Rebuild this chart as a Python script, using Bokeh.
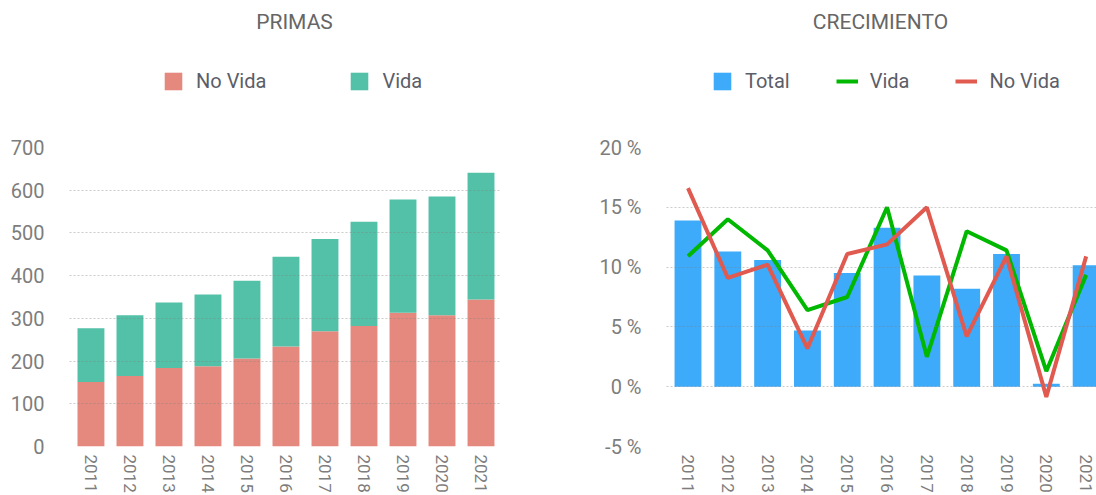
from bokeh.plotting import figure
from bokeh.layouts import row, column
from bokeh.models import (ColumnDataSource, Range1d, FixedTicker, PrintfTickFormatter,
                          Legend, LegendItem, Label)
from bokeh.embed import file_html
from bokeh.resources import INLINE

# ---------------- data ----------------
years = ["2011", "2012", "2013", "2014", "2015", "2016", "2017", "2018", "2019", "2020", "2021"]

primas_no_vida = [151, 165, 184, 188, 206, 234, 270, 282, 313, 307, 344]
primas_vida = [126, 142, 153, 168, 182, 210, 216, 244, 265, 278, 297]
primas_ticks = [0, 100, 200, 300, 400, 500, 600, 700]

crec_total = [13.9, 11.3, 10.6, 4.7, 9.5, 13.3, 9.3, 8.2, 11.1, 0.25, 10.15]
crec_vida = [10.9, 14.0, 11.4, 6.4, 7.5, 15.0, 2.5, 13.0, 11.4, 1.3, 9.35]
crec_no_vida = [16.6, 9.1, 10.2, 3.2, 11.1, 11.9, 15.0, 4.2, 10.9, -0.85, 10.9]
crec_ticks = [-5, 0, 5, 10, 15, 20]

# ---------------- style ----------------
FONT = "Roboto"
C_NOVIDA = "#E5897F"
C_VIDA = "#53C1A7"
C_TOTAL = "#3DAAFA"
C_LVIDA = "#00B800"
C_LNOVIDA = "#E05A50"
TICK_COLOR = "#7d7d7d"
TITLE_COLOR = "#666666"
LEGEND_COLOR = "#5b5e68"

HEAD_H = 127
H = 368
TOP = 20
BOTTOM = 46
W = 548

xs = list(range(len(years)))


def make_fig(width, left, right, x_start, x_end, y_start, y_end, ticks):
    p = figure(width=width, height=H, title=None,
               x_range=Range1d(x_start, x_end), y_range=Range1d(y_start, y_end),
               toolbar_location=None, output_backend="svg",
               min_border_left=left, min_border_right=right,
               min_border_top=TOP, min_border_bottom=BOTTOM)
    p.outline_line_color = None
    p.background_fill_color = "white"
    p.border_fill_color = "white"
    p.xgrid.visible = False
    p.ygrid.ticker = FixedTicker(ticks=ticks)
    p.ygrid.grid_line_color = "#808080"
    p.ygrid.grid_line_alpha = 0.4
    p.ygrid.grid_line_dash = "2 2"
    p.ygrid.grid_line_width = 1
    p.ygrid.level = "overlay"

    xa = p.xaxis[0]
    xa.ticker = FixedTicker(ticks=xs)
    xa.major_label_overrides = {i: y for i, y in zip(xs, years)}
    xa.major_label_orientation = "vertical"
    xa.major_label_text_font = FONT
    xa.major_label_text_font_size = "17px"
    xa.major_label_text_color = TICK_COLOR
    xa.major_label_standoff = 8
    xa.axis_line_color = None
    xa.major_tick_line_color = None
    xa.minor_tick_line_color = None
    xa.major_tick_out = 0
    xa.major_tick_in = 0

    ya = p.yaxis[0]
    ya.ticker = FixedTicker(ticks=ticks)
    ya.major_label_text_font = FONT
    ya.major_label_text_font_size = "20px"
    ya.major_label_text_color = TICK_COLOR
    ya.major_label_standoff = 25
    ya.axis_line_color = None
    ya.major_tick_line_color = None
    ya.minor_tick_line_color = None
    ya.major_tick_out = 0
    ya.major_tick_in = 0
    return p


def make_header(frame_left, frame_right, title, title_cx, legend_x, spacing, swatches):
    # header frame is aligned with the chart frame below it; x in page px, y in px from top
    h = figure(width=W, height=HEAD_H, x_range=Range1d(frame_left, frame_right),
               y_range=Range1d(HEAD_H, 0),
               x_axis_type=None, y_axis_type=None, toolbar_location=None,
               output_backend="svg", min_border=0, title=None)
    h.outline_line_color = None
    h.background_fill_color = "white"
    h.border_fill_color = "white"
    h.add_layout(Label(x=title_cx, y=21.5, text=title, text_align="center",
                       text_baseline="alphabetic", text_font=FONT, text_font_size="21px",
                       text_color=TITLE_COLOR))
    items = []
    nan = float("nan")
    for label, kind, color in swatches:
        src = ColumnDataSource(dict(x=[nan], y=[nan]))
        if kind == "box":
            r = h.vbar(x="x", top="y", width=1, source=src, fill_color=color, line_color=None)
        else:
            r = h.line(x="x", y="y", source=src, line_color=color, line_width=4)
        items.append(LegendItem(label=label, renderers=[r]))
    leg = Legend(items=items, location=(legend_x - frame_left, HEAD_H - 93),
                 orientation="horizontal", glyph_width=22, glyph_height=22,
                 label_standoff=12, spacing=spacing, padding=0, margin=0,
                 border_line_color=None, background_fill_alpha=0,
                 label_text_font=FONT, label_text_font_size="20px",
                 label_text_color=LEGEND_COLOR, label_height=22)
    h.add_layout(leg)
    return h


# ---------------- left: PRIMAS ----------------
L1, R1 = 69, 48
p1 = make_fig(W, L1, R1, -0.55, 10.5, 0, 700, primas_ticks)
src1 = ColumnDataSource(dict(x=xs, no_vida=primas_no_vida, vida=primas_vida))
bars = p1.vbar_stack(["no_vida", "vida"], x="x", width=0.69, source=src1,
                     fill_color=[C_NOVIDA, C_VIDA], line_color=None)
h1 = make_header(L1, W - R1, "PRIMAS", 294, 162, 82,
                 [("No Vida", "box", C_NOVIDA), ("Vida", "box", C_VIDA)])

# ---------------- right: CRECIMIENTO ----------------
L2, R2 = 118, 0
p2 = make_fig(W, L2, R2, -0.54, 10.26, -5, 20, crec_ticks)
p2.yaxis[0].formatter = PrintfTickFormatter(format="%d %%")
src2 = ColumnDataSource(dict(x=xs, total=crec_total, vida=crec_vida, no_vida=crec_no_vida))
rb = p2.vbar(x="x", top="total", bottom=0, width=0.675, source=src2,
             fill_color=C_TOTAL, line_color=None)
rv = p2.line(x="x", y="vida", source=src2, line_color=C_LVIDA, line_width=4)
rn = p2.line(x="x", y="no_vida", source=src2, line_color=C_LNOVIDA, line_width=4)
h2 = make_header(W + L2, 2 * W - R2, "CRECIMIENTO", 880, 711, 46,
                 [("Total", "box", C_TOTAL), ("Vida", "line", C_LVIDA),
                  ("No Vida", "line", C_LNOVIDA)])

layout = row(column(h1, p1), column(h2, p2))
open("out.html", "w").write(file_html(layout, INLINE))
